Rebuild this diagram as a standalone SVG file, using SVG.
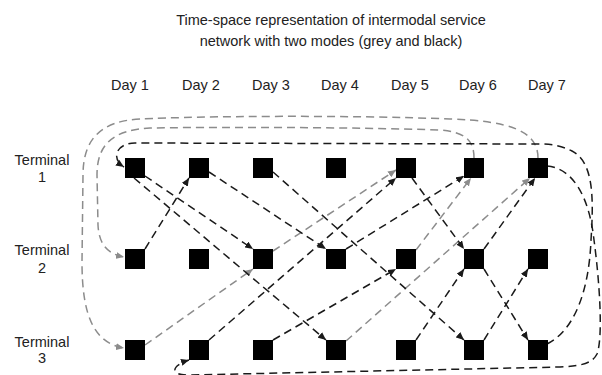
<svg xmlns="http://www.w3.org/2000/svg" width="602" height="375" viewBox="0 0 602 375">
  <defs>
    <marker id="arrow-black" markerUnits="userSpaceOnUse" markerWidth="9" markerHeight="7" refX="8" refY="3.5" orient="auto">
      <path d="M0,0 L8,3.5 L0,7 z" fill="#1a1a1a"/>
    </marker>
    <marker id="arrow-grey" markerUnits="userSpaceOnUse" markerWidth="9" markerHeight="7" refX="8" refY="3.5" orient="auto">
      <path d="M0,0 L8,3.5 L0,7 z" fill="#8c8c8c"/>
    </marker>
    <style>
      text { font-family: "Liberation Sans", Arial, sans-serif; font-size: 14.5px; fill: #222; }
      .title { text-anchor: middle; }
      .day { text-anchor: middle; }
      .term { text-anchor: middle; }
      .node rect { fill: #000; }
      .black { fill: none; stroke: #1a1a1a; stroke-width: 1.5; stroke-dasharray: 8 5; marker-end: url(#arrow-black); }
      .grey { fill: none; stroke: #8c8c8c; stroke-width: 1.5; stroke-dasharray: 8 5; marker-end: url(#arrow-grey); }
    </style>
  </defs>

  <rect width="602" height="375" fill="#fff"/>

  <!-- Title -->
  <text class="title" x="331" y="25">Time-space representation of intermodal service</text>
  <text class="title" x="331" y="46">network with two modes (grey and black)</text>

  <!-- Day headers -->
  <g id="days">
    <text class="day" x="130" y="90">Day 1</text>
    <text class="day" x="201" y="90">Day 2</text>
    <text class="day" x="271" y="90">Day 3</text>
    <text class="day" x="340" y="90">Day 4</text>
    <text class="day" x="410" y="90">Day 5</text>
    <text class="day" x="478" y="90">Day 6</text>
    <text class="day" x="547" y="90">Day 7</text>
  </g>

  <!-- Terminal labels -->
  <g id="terminals">
    <text class="term" x="42" y="165">Terminal</text>
    <text class="term" x="42" y="182">1</text>
    <text class="term" x="42" y="255">Terminal</text>
    <text class="term" x="42" y="273">2</text>
    <text class="term" x="42" y="347">Terminal</text>
    <text class="term" x="42" y="363">3</text>
  </g>

  <!-- Connectors -->
  <g id="connectors">
    <!-- grey mode: wrap-around arcs -->
    <path class="grey" d="M538,158 C538,130 508,121 450,119 C350,115 200,116 140,119 C100,121 83,140 83,175 L82,262 C82,318 95,343 124,348"/>
    <path class="grey" d="M474,158 C474,140 465,132 440,130 C350,127 200,127 150,128 C112,130 97,145 97,175 L98,225 C99,245 108,254 124,257"/>
    <!-- grey mode: day-to-day services -->
    <path class="grey" d="M145,345 L253,269"/>
    <path class="grey" d="M273,251 L396,170"/>
    <path class="grey" d="M416,250 L471,178"/>
    <path class="grey" d="M346,341 L530,178"/>

    <!-- black mode: wrap-around arcs -->
    <path class="black" d="M547,344 C575,330 589,290 591,240 C594,195 593,162 572,151 C562,146 552,144 540,144 L135,143 C117,143 110,158 124,167"/>
    <path class="black" d="M547,166 C572,168 589,195 594,240 C600,285 603,338 597,354 C592,364 580,366 560,367 L190,375 C170,376 170,366 189,360"/>
    <!-- black mode: day-to-day services -->
    <path class="black" d="M145,249 L189,178"/>
    <path class="black" d="M145,176 L253,249"/>
    <path class="black" d="M134,178 L326,340"/>
    <path class="black" d="M209,172 L326,249"/>
    <path class="black" d="M273,172 L464,340"/>
    <path class="black" d="M209,340 L396,178"/>
    <path class="black" d="M273,340 L396,269"/>
    <path class="black" d="M412,178 L464,249"/>
    <path class="black" d="M346,249 L464,176"/>
    <path class="black" d="M484,249 L535,178"/>
    <path class="black" d="M416,340 L464,269"/>
    <path class="black" d="M484,269 L528,340"/>
    <path class="black" d="M484,340 L528,269"/>
  </g>

  <!-- Nodes: terminal x day -->
  <g id="t1d1" class="node"><rect x="125" y="158" width="20" height="20"/></g>
  <g id="t1d2" class="node"><rect x="189" y="158" width="20" height="20"/></g>
  <g id="t1d3" class="node"><rect x="253" y="158" width="20" height="20"/></g>
  <g id="t1d4" class="node"><rect x="326" y="158" width="20" height="20"/></g>
  <g id="t1d5" class="node"><rect x="396" y="158" width="20" height="20"/></g>
  <g id="t1d6" class="node"><rect x="464" y="158" width="20" height="20"/></g>
  <g id="t1d7" class="node"><rect x="528" y="158" width="20" height="20"/></g>

  <g id="t2d1" class="node"><rect x="125" y="249" width="20" height="20"/></g>
  <g id="t2d2" class="node"><rect x="189" y="249" width="20" height="20"/></g>
  <g id="t2d3" class="node"><rect x="253" y="249" width="20" height="20"/></g>
  <g id="t2d4" class="node"><rect x="326" y="249" width="20" height="20"/></g>
  <g id="t2d5" class="node"><rect x="396" y="249" width="20" height="20"/></g>
  <g id="t2d6" class="node"><rect x="464" y="249" width="20" height="20"/></g>
  <g id="t2d7" class="node"><rect x="528" y="249" width="20" height="20"/></g>

  <g id="t3d1" class="node"><rect x="125" y="340" width="20" height="20"/></g>
  <g id="t3d2" class="node"><rect x="189" y="340" width="20" height="20"/></g>
  <g id="t3d3" class="node"><rect x="253" y="340" width="20" height="20"/></g>
  <g id="t3d4" class="node"><rect x="326" y="340" width="20" height="20"/></g>
  <g id="t3d5" class="node"><rect x="396" y="340" width="20" height="20"/></g>
  <g id="t3d6" class="node"><rect x="464" y="340" width="20" height="20"/></g>
  <g id="t3d7" class="node"><rect x="528" y="340" width="20" height="20"/></g>
</svg>
